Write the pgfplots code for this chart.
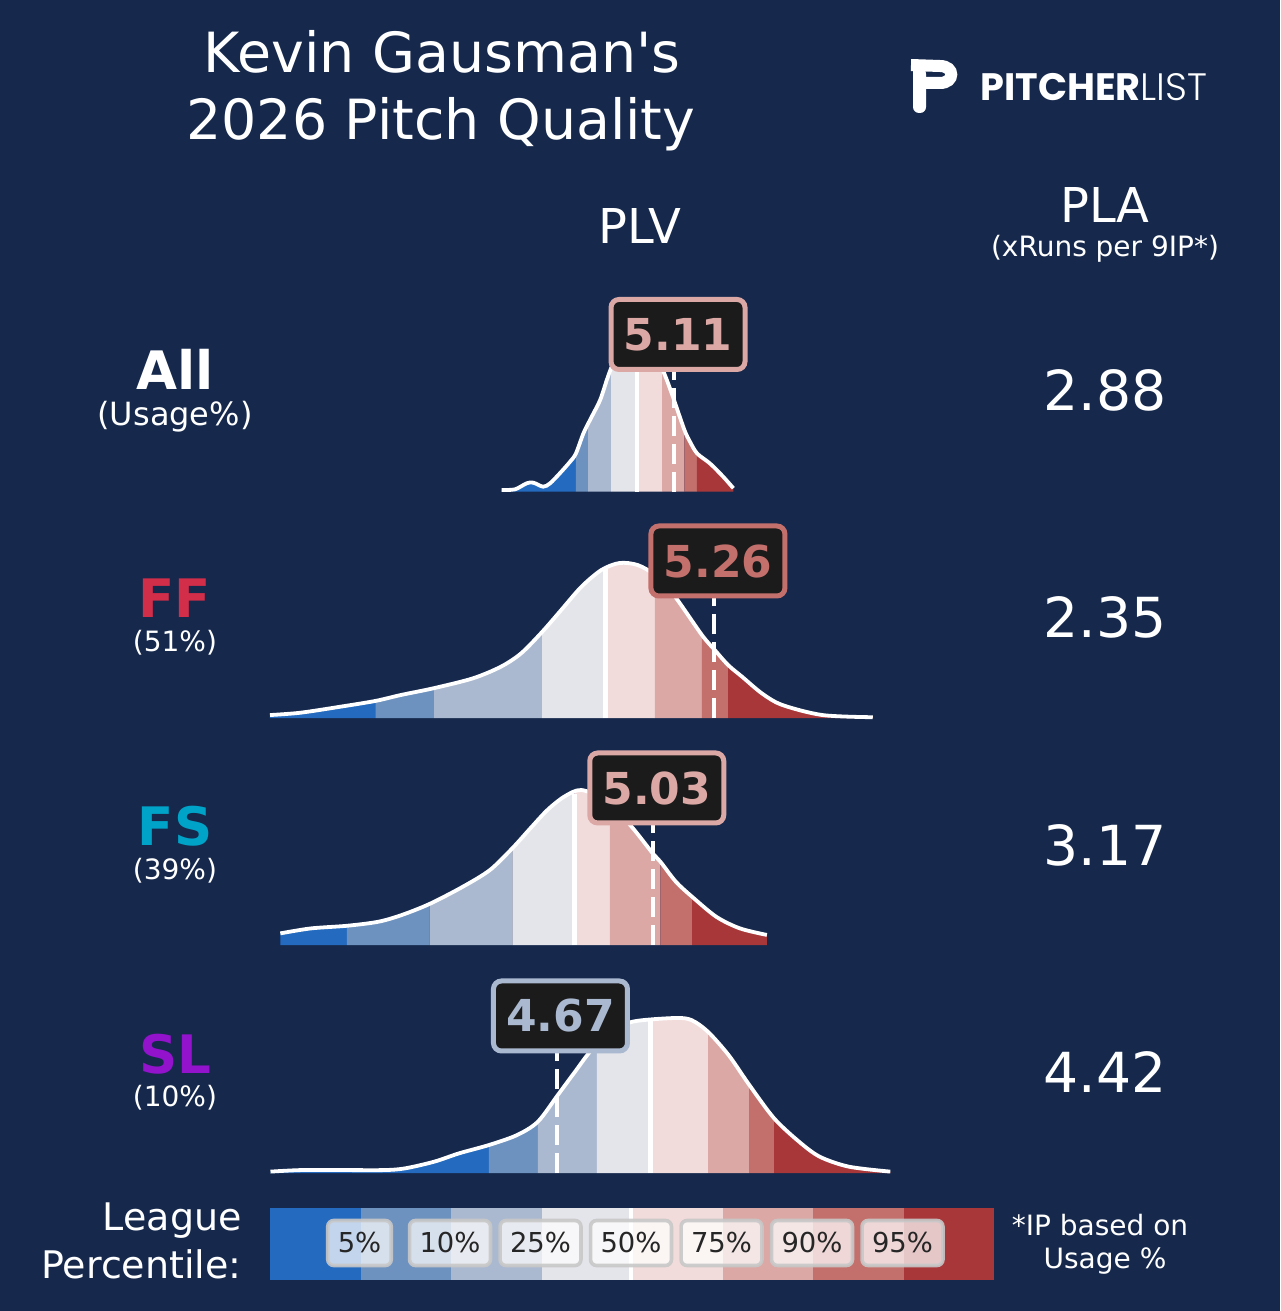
\documentclass[border=0pt]{standalone}
\usepackage{pgfplots}
\pgfplotsset{compat=1.18}
\usepackage{pgfplotstable}
\usepgfplotslibrary{fillbetween}
\usepackage{fontspec}
\setmainfont{DejaVu Sans}
\newfontfamily\logofont{Poppins}
\newfontfamily\logolight{Poppins Light}

\definecolor{bg}{HTML}{16294D}
\definecolor{c05}{HTML}{246BBF}
\definecolor{c10}{HTML}{6E92BF}
\definecolor{c25}{HTML}{AAB9D0}
\definecolor{c50}{HTML}{E4E5EA}
\definecolor{c75}{HTML}{F2DCDB}
\definecolor{c90}{HTML}{DBA8A5}
\definecolor{c95}{HTML}{C3706C}
\definecolor{c100}{HTML}{A8373A}
\definecolor{boxbg}{HTML}{1B1B1B}
\definecolor{ffc}{HTML}{D22D49}
\definecolor{fsc}{HTML}{00A3C8}
\definecolor{slc}{HTML}{9312CC}
\definecolor{lgray}{HTML}{C8C8C8}
\definecolor{txtdark}{HTML}{262626}

\pgfplotstableread{
v d
4.462 0.010
4.512 0.014
4.556 0.053
4.581 0.057
4.618 0.031
4.644 0.053
4.681 0.118
4.719 0.192
4.741 0.245
4.769 0.374
4.794 0.461
4.832 0.590
4.857 0.718
4.873 0.794
4.907 0.930
4.940 0.995
4.975 1.000
5.020 0.940
5.070 0.774
5.101 0.634
5.110 0.590
5.149 0.397
5.170 0.321
5.197 0.245
5.245 0.181
5.295 0.095
5.333 0.021
}\allData

\pgfplotstableread{
v d
3.591 0.019
3.705 0.034
3.856 0.073
3.987 0.110
4.082 0.148
4.206 0.192
4.354 0.256
4.459 0.331
4.535 0.417
4.615 0.557
4.686 0.697
4.762 0.847
4.837 0.955
4.905 1.000
4.973 0.987
5.038 0.923
5.109 0.794
5.215 0.535
5.263 0.439
5.313 0.342
5.366 0.266
5.441 0.158
5.517 0.084
5.668 0.019
5.857 0.005
}\ffData

\pgfplotstableread{
v d
3.630 0.075
3.744 0.107
3.880 0.124
3.998 0.150
4.087 0.194
4.191 0.265
4.316 0.376
4.418 0.484
4.502 0.624
4.570 0.753
4.634 0.871
4.697 0.957
4.761 1.000
4.850 0.935
4.945 0.774
5.030 0.591
5.059 0.537
5.117 0.408
5.178 0.311
5.269 0.182
5.358 0.107
5.459 0.065
}\fsData

\pgfplotstableread{
v d
3.593 0.009
3.709 0.019
3.865 0.019
4.021 0.019
4.099 0.030
4.208 0.073
4.302 0.127
4.415 0.181
4.520 0.245
4.598 0.331
4.673 0.503
4.738 0.654
4.800 0.794
4.878 0.912
4.956 0.977
5.112 1.000
5.175 0.987
5.237 0.912
5.315 0.761
5.393 0.568
5.486 0.353
5.580 0.202
5.658 0.105
5.767 0.041
5.923 0.009
}\slData

\tikzset{fill between/on layer=main}

% bands: #1 path name, #2..#8 percentile boundaries (5,10,25,50,75,90,95)
\newcommand{\bands}[8]{%
 \addplot[fill=c05,draw=none] fill between[of=#1 and base#1, soft clip={domain=3.0:#2}];
 \addplot[fill=c10,draw=none] fill between[of=#1 and base#1, soft clip={domain=#2:#3}];
 \addplot[fill=c25,draw=none] fill between[of=#1 and base#1, soft clip={domain=#3:#4}];
 \addplot[fill=c50,draw=none] fill between[of=#1 and base#1, soft clip={domain=#4:#5}];
 \addplot[fill=c75,draw=none] fill between[of=#1 and base#1, soft clip={domain=#5:#6}];
 \addplot[fill=c90,draw=none] fill between[of=#1 and base#1, soft clip={domain=#6:#7}];
 \addplot[fill=c95,draw=none] fill between[of=#1 and base#1, soft clip={domain=#7:#8}];
 \addplot[fill=c100,draw=none] fill between[of=#1 and base#1, soft clip={domain=#8:7.0}];
}

\pgfplotsset{rowaxis/.style={hide axis, clip=false, x=133pt, y=77.5pt,
  xmin=3.5, xmax=6.0, ymin=0, ymax=1.3, anchor=south west}}
\tikzset{lbl/.style={rounded corners=4pt, fill=boxbg, line width=2.5pt,
  minimum width=67pt, minimum height=35pt, inner sep=0pt,
  font=\fontsize{22}{22}\selectfont\bfseries},
  pbox/.style={rounded corners=3pt, fill=white, fill opacity=0.72, text opacity=1,
  draw=lgray, draw opacity=0.9, line width=1.8pt, minimum height=22.5pt,
  inner xsep=5pt, inner ysep=0pt, text=txtdark, font=\fontsize{13.7}{14}\selectfont},
  dashv/.style={white, line width=2pt, dash pattern=on 10pt off 4pt},
  midline/.style={white, line width=2.25pt},
  curve/.style={white, line width=1.9pt, smooth}}

\begin{document}
\begin{tikzpicture}
\fill[bg] (0,0) rectangle (640pt,-655.5pt);

% ---------- All ----------
\begin{axis}[rowaxis, at={(122.89pt,-245.75pt)}]
\addplot[name path=all, draw=none, smooth] table[x=v,y=d] {\allData};
\addplot[name path=baseall, draw=none] coordinates {(4.462,0) (5.333,0)};
\bands{all}{4.741}{4.787}{4.873}{4.971}{5.065}{5.149}{5.196}
\addplot[midline] coordinates {(4.971,0) (4.971,0.985)};
\addplot[curve] table[x=v,y=d] {\allData};
\addplot[dashv] coordinates {(5.11,0) (5.11,0.79)};
\node[lbl, draw=c90, text=c90] at (axis cs:5.125,1.013) {5.11};
\end{axis}

% ---------- FF ----------
\begin{axis}[rowaxis, at={(122.89pt,-359pt)}]
\addplot[name path=ff, draw=none, smooth] table[x=v,y=d] {\ffData};
\addplot[name path=baseff, draw=none] coordinates {(3.591,0) (5.857,0)};
\bands{ff}{3.987}{4.208}{4.614}{4.852}{5.038}{5.215}{5.313}
\addplot[midline] coordinates {(4.852,0) (4.852,0.96)};
\addplot[curve] table[x=v,y=d] {\ffData};
\addplot[dashv] coordinates {(5.26,0) (5.26,0.79)};
\node[lbl, draw=c95, text=c95] at (axis cs:5.275,1.013) {5.26};
\end{axis}

% ---------- FS ----------
\begin{axis}[rowaxis, at={(122.89pt,-472.5pt)}]
\addplot[name path=fs, draw=none, smooth] table[x=v,y=d] {\fsData};
\addplot[name path=basefs, draw=none] coordinates {(3.630,0) (5.459,0)};
\bands{fs}{3.880}{4.191}{4.502}{4.735}{4.869}{5.059}{5.178}
\addplot[midline] coordinates {(4.735,0) (4.735,0.975)};
\addplot[curve] table[x=v,y=d] {\fsData};
\addplot[dashv] coordinates {(5.03,0) (5.03,0.79)};
\node[lbl, draw=c90, text=c90] at (axis cs:5.045,1.013) {5.03};
\end{axis}

% ---------- SL ----------
\begin{axis}[rowaxis, at={(122.89pt,-586.5pt)}]
\addplot[name path=sl, draw=none, smooth] table[x=v,y=d] {\slData};
\addplot[name path=basesl, draw=none] coordinates {(3.593,0) (5.923,0)};
\bands{sl}{4.414}{4.598}{4.820}{5.021}{5.238}{5.392}{5.486}
\addplot[midline] coordinates {(5.021,0) (5.021,0.985)};
\addplot[curve] table[x=v,y=d] {\slData};
\addplot[dashv] coordinates {(4.67,0) (4.67,0.79)};
\node[lbl, draw=c25, text=c25] at (axis cs:4.683,1.013) {4.67};
\end{axis}

\begin{scope}[x=0.5pt,y=-0.5pt]
% title
\node[anchor=base, white, font=\fontsize{27.7}{30}\selectfont] at (442,73) {Kevin Gausman\textquotesingle s};
\node[anchor=base, white, font=\fontsize{27.7}{30}\selectfont] at (441,140) {2026 Pitch Quality};
% logo
\fill[white, rounded corners=3pt] (913,62) -- (926,68) -- (926,113) -- (913,113) -- cycle;
\draw[white, line width=6pt] (911,65) -- (940,66) .. controls (955,66) and (955,83) .. (940,83) -- (925,83);
\node[anchor=base west, white, inner sep=0pt, font=\fontsize{19.1}{20}\selectfont] at (980,101) {{\logofont\bfseries PITCHER}{\logolight\mdseries LIST}};
% headers
\node[anchor=base, white, font=\fontsize{24}{26}\selectfont] at (640,243) {PLV};
\node[anchor=base, white, font=\fontsize{24}{26}\selectfont] at (1105,222) {PLA};
\node[anchor=base, white, font=\fontsize{14}{16}\selectfont] at (1105,256) {(xRuns per 9IP*)};
% row labels
\node[anchor=base, white, font=\fontsize{26.5}{28}\selectfont\bfseries] at (175,389) {All};
\node[anchor=base, white, font=\fontsize{16}{18}\selectfont] at (175,425) {(Usage\%)};
\node[anchor=base, ffc, font=\fontsize{26.5}{28}\selectfont\bfseries] at (175,617) {FF};
\node[anchor=base, white, font=\fontsize{14}{16}\selectfont] at (175,651) {(51\%)};
\node[anchor=base, fsc, font=\fontsize{26.5}{28}\selectfont\bfseries] at (175,845) {FS};
\node[anchor=base, white, font=\fontsize{14}{16}\selectfont] at (175,879) {(39\%)};
\node[anchor=base, slc, font=\fontsize{26.5}{28}\selectfont\bfseries] at (175,1073) {SL};
\node[anchor=base, white, font=\fontsize{14}{16}\selectfont] at (175,1106) {(10\%)};
% PLA values
\node[anchor=base, white, font=\fontsize{27.6}{30}\selectfont] at (1105,410) {2.88};
\node[anchor=base, white, font=\fontsize{27.6}{30}\selectfont] at (1105,637) {2.35};
\node[anchor=base, white, font=\fontsize{27.6}{30}\selectfont] at (1105,865) {3.17};
\node[anchor=base, white, font=\fontsize{27.6}{30}\selectfont] at (1105,1092) {4.42};
% legend
\node[anchor=base east, white, inner sep=0pt, font=\fontsize{19}{20}\selectfont] at (242,1230) {League};
\node[anchor=base east, white, inner sep=0pt, font=\fontsize{19}{20}\selectfont] at (242,1278) {Percentile:};
\fill[c05]  (270,1208) rectangle (360.5,1280);
\fill[c10]  (360.5,1208) rectangle (451,1280);
\fill[c25]  (451,1208) rectangle (541.5,1280);
\fill[c50]  (541.5,1208) rectangle (632,1280);
\fill[c75]  (632,1208) rectangle (722.5,1280);
\fill[c90]  (722.5,1208) rectangle (813,1280);
\fill[c95]  (813,1208) rectangle (903.5,1280);
\fill[c100] (903.5,1208) rectangle (994,1280);
\fill[white] (629,1208) rectangle (633,1280);
\node[pbox] at (359.5,1243) {5\%};
\node[pbox] at (450,1243) {10\%};
\node[pbox] at (540.5,1243) {25\%};
\node[pbox] at (631,1243) {50\%};
\node[pbox] at (721.5,1243) {75\%};
\node[pbox] at (812,1243) {90\%};
\node[pbox] at (902.5,1243) {95\%};
\node[anchor=base, white, font=\fontsize{14}{16}\selectfont] at (1100,1235) {*IP based on};
\node[anchor=base, white, font=\fontsize{14}{16}\selectfont] at (1105,1268) {Usage \%};
\end{scope}
\pgfresetboundingbox
\useasboundingbox (0,0) rectangle (640pt,-655.5pt);
\end{tikzpicture}
\end{document}
